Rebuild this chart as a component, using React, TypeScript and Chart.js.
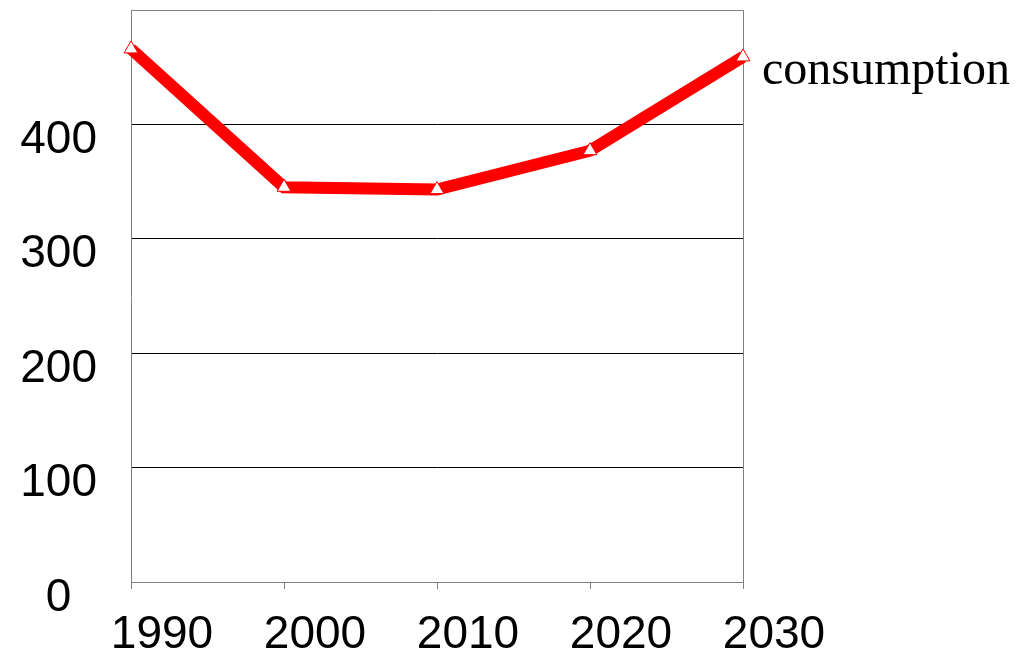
import React, { useEffect, useRef } from "react";
import { Chart, registerables } from "chart.js";

Chart.register(...registerables);

const years: string[] = ["1990", "2000", "2010", "2020", "2030"];
const consumption: number[] = [466, 345, 343, 377, 459];
const seriesName = "consumption";
const yTicks: number[] = [0, 100, 200, 300, 400, 500];

const GRAY = "#808080";

const endLabel = {
  id: "endLabel",
  afterDatasetsDraw(chart: any) {
    const meta = chart.getDatasetMeta(0);
    const pt = meta.data[meta.data.length - 1];
    if (!pt) return;
    const ctx = chart.ctx;
    ctx.save();
    ctx.font = '48px "Liberation Serif", "Times New Roman", serif';
    ctx.fillStyle = "#000";
    ctx.textAlign = "left";
    ctx.textBaseline = "middle";
    ctx.fillText(chart.data.datasets[0].label, pt.x + 19, pt.y + 14);
    ctx.restore();
  },
};

export default function App() {
  const ref = useRef<HTMLCanvasElement | null>(null);
  useEffect(() => {
    if (!ref.current) return;
    const chart = new Chart(ref.current, {
      type: "line",
      data: {
        labels: years,
        datasets: [
          {
            label: seriesName,
            data: consumption,
            borderColor: "#ff0000",
            borderWidth: 12,
            pointStyle: "triangle",
            pointRadius: 8,
            pointBackgroundColor: "#ffffff",
            pointBorderColor: "#ff0000",
            pointBorderWidth: 1,
            tension: 0,
          },
        ],
      },
      options: {
        animation: false,
        responsive: false,
        maintainAspectRatio: false,
        layout: { padding: { top: 10, right: 286, left: 0, bottom: 0 } },
        plugins: { legend: { display: false }, tooltip: { enabled: false } },
        scales: {
          x: {
            type: "category",
            offset: false,
            afterFit: (s: any) => {
              s.height = 73;
              s.paddingLeft = 0;
              s.paddingRight = 0;
            },
            border: { display: true, color: GRAY, width: 1 },
            grid: {
              drawOnChartArea: true,
              drawTicks: true,
              tickLength: 7,
              color: (c: any) => (c.index === 4 ? GRAY : "rgba(0,0,0,0)"),
              tickColor: GRAY,
              lineWidth: 1,
            },
            ticks: {
              font: { family: '"Liberation Sans", Arial, sans-serif', size: 46 },
              color: "#000",
              padding: 19,
              labelOffset: 31,
              maxRotation: 0,
              autoSkip: false,
            },
          },
          y: {
            min: 0,
            max: 500,
            afterFit: (s: any) => {
              s.width = 131;
              s.paddingTop = 0;
              s.paddingBottom = 0;
            },
            afterBuildTicks: (s: any) => {
              s.ticks = yTicks.map((v) => ({ value: v }));
            },
            border: { display: true, color: GRAY, width: 1 },
            grid: {
              drawTicks: false,
              color: (c: any) =>
                c.tick && (c.tick.value === 500 || c.tick.value === 0) ? GRAY : "#000",
              lineWidth: 1,
            },
            ticks: {
              font: { family: '"Liberation Sans", Arial, sans-serif', size: 46 },
              color: "#000",
              padding: 34,
              crossAlign: "center",
              labelOffset: 16,
              callback: (v: any) => (Number(v) === 500 ? "" : String(v)),
            },
          },
        },
      },
      plugins: [endLabel],
    });
    return () => chart.destroy();
  }, []);
  return (
    <div style={{ position: "fixed", left: 0, top: 0, width: 1029, height: 655, background: "#fff" }}>
      <canvas ref={ref} width={1029} height={655} style={{ width: 1029, height: 655, display: "block" }} />
    </div>
  );
}
